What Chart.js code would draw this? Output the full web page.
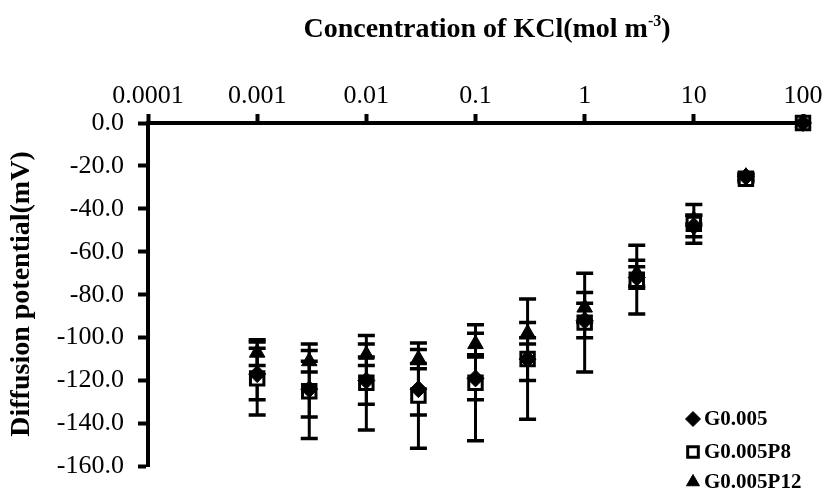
<!DOCTYPE html>
<html>
<head>
<meta charset="utf-8">
<script src="https://cdn.jsdelivr.net/npm/chart.js@4.4.1/dist/chart.umd.min.js"></script>
<style>
  html, body { margin: 0; padding: 0; background: #ffffff; }
  #wrap { width: 827px; height: 496px; }
</style>
</head>
<body>
<div id="wrap"><canvas id="c" width="827" height="496"></canvas></div>
<script>
// KCl concentration (mol m^-3) of each measurement
const concentrations = [0.001, 0.003, 0.01, 0.03, 0.1, 0.3, 1, 3, 10, 30, 100];

const seriesNames = ['G0.005', 'G0.005P8', 'G0.005P12'];

// Diffusion potential (mV) and its error, per membrane
const g005      = [-117, -124, -120, -124, -119, -110, -92, -72, -48, -25, 0];
const g005Err   = [12, 13, 11, 12, 10, 10, 8, 5, 5, 1.5, 0];
const g005P8    = [-119, -125, -121, -127, -121, -110, -93, -73, -47, -26, 0];
const g005P8Err = [17, 22, 22, 24.5, 27, 28, 23, 16, 9, 1.5, 0];
const g005P12   = [-107, -111, -108, -110, -103, -98, -86, -70, -45, -25, 0];
const g005P12Err = [6, 5, 5, 4.5, 5, 5, 7, 6, 2, 1, 0];

// Axis ticks and titles
const xTickValues = [0.0001, 0.001, 0.01, 0.1, 1, 10, 100];
const xTickLabels = ['0.0001', '0.001', '0.01', '0.1', '1', '10', '100'];
const yTickValues = [0, -20, -40, -60, -80, -100, -120, -140, -160];
const xTitleMain = 'Concentration of KCl(mol m';
const xTitleSup = '-3';
const xTitleEnd = ')';
const yTitle = 'Diffusion potential(mV)';

const SERIF = '"Liberation Serif", "Times New Roman", serif';

function points(values) {
  return concentrations.map((c, i) => ({ x: c, y: values[i] }));
}

const datasets = [
  {
    label: seriesNames[0], data: points(g005), errors: g005Err,
    pointStyle: 'rectRot', pointRadius: 8.5, pointHoverRadius: 8.5,
    backgroundColor: '#000', borderColor: '#000', borderWidth: 1
  },
  {
    label: seriesNames[1], data: points(g005P8), errors: g005P8Err,
    pointStyle: 'rect', pointRadius: 9.5, pointHoverRadius: 9.5,
    backgroundColor: '#fff', borderColor: '#000', borderWidth: 3
  },
  {
    label: seriesNames[2], data: points(g005P12), errors: g005P12Err,
    pointStyle: 'triangle', pointRadius: 9, pointHoverRadius: 9,
    backgroundColor: '#000', borderColor: '#000', borderWidth: 1
  }
].map(d => Object.assign(d, { showLine: false, clip: false }));

// Vertical error bars with caps, placed through the chart's scales
const errorBars = {
  id: 'errorBars',
  beforeDatasetsDraw(chart) {
    const { ctx, scales: { x, y } } = chart;
    ctx.save();
    ctx.strokeStyle = '#000';
    chart.data.datasets.forEach(ds => {
      ds.data.forEach((p, i) => {
        const e = ds.errors[i];
        if (!e) return;
        const px = x.getPixelForValue(p.x);
        const top = y.getPixelForValue(p.y + e);
        const bot = y.getPixelForValue(p.y - e);
        ctx.lineWidth = 3;
        ctx.beginPath();
        ctx.moveTo(px, top); ctx.lineTo(px, bot);
        ctx.stroke();
        ctx.lineWidth = 3.5;
        ctx.beginPath();
        ctx.moveTo(px - 8.5, top); ctx.lineTo(px + 8.5, top);
        ctx.moveTo(px - 8.5, bot); ctx.lineTo(px + 8.5, bot);
        ctx.stroke();
      });
    });
    ctx.restore();
  }
};

// Axis titles, with the superscript unit exponent
const axisTitles = {
  id: 'axisTitles',
  afterDraw(chart) {
    const ctx = chart.ctx;
    ctx.save();
    ctx.fillStyle = '#000';
    ctx.textBaseline = 'alphabetic';
    const mainFont = 'bold 28px ' + SERIF;
    const supFont = 'bold 16px ' + SERIF;
    ctx.font = mainFont;
    const w1 = ctx.measureText(xTitleMain).width;
    const w3 = ctx.measureText(xTitleEnd).width;
    ctx.font = supFont;
    const w2 = ctx.measureText(xTitleSup).width;
    const total = w1 + w2 + w3;
    const tx = 487 - total / 2;
    const base = 37;
    ctx.textAlign = 'left';
    ctx.font = mainFont;
    ctx.fillText(xTitleMain, tx, base);
    ctx.font = supFont;
    ctx.fillText(xTitleSup, tx + w1, base - 11);
    ctx.font = mainFont;
    ctx.fillText(xTitleEnd, tx + w1 + w2, base);

    ctx.translate(22, 294);
    ctx.rotate(-Math.PI / 2);
    ctx.textAlign = 'center';
    ctx.textBaseline = 'middle';
    ctx.font = mainFont;
    ctx.fillText(yTitle, 0, 0);
    ctx.restore();
  }
};

// Legend in the lower right of the plot
const cornerLegend = {
  id: 'cornerLegend',
  afterDraw(chart) {
    const ctx = chart.ctx;
    const rows = [419, 452, 482];
    ctx.save();
    ctx.font = 'bold 21px ' + SERIF;
    ctx.textAlign = 'left';
    ctx.textBaseline = 'middle';
    chart.data.datasets.forEach((ds, i) => {
      const yy = rows[i];
      ctx.fillStyle = ds.backgroundColor;
      ctx.strokeStyle = ds.borderColor;
      ctx.lineWidth = ds.borderWidth;
      Chart.helpers.drawPoint(ctx, {
        pointStyle: ds.pointStyle,
        radius: 7.5,
        borderWidth: ds.borderWidth,
        rotation: 0
      }, 693, yy);
      ctx.fillStyle = '#000';
      ctx.fillText(ds.label, 704, yy + 1);
    });
    ctx.restore();
  }
};

const tickFont = { family: SERIF, size: 26 };

new Chart(document.getElementById('c'), {
  type: 'scatter',
  data: { datasets },
  options: {
    responsive: false,
    animation: false,
    devicePixelRatio: 1,
    layout: { padding: { top: 0, left: 0, right: 24, bottom: 19 } },
    plugins: { legend: { display: false }, tooltip: { enabled: false } },
    scales: {
      x: {
        type: 'logarithmic',
        position: 'top',
        min: 0.0001,
        max: 100,
        afterBuildTicks: s => { s.ticks = xTickValues.map(v => ({ value: v })); },
        afterFit: s => { s.height = 123; },
        ticks: {
          callback: (v, i) => xTickLabels[i],
          font: tickFont, color: '#000', padding: 2,
          maxRotation: 0, autoSkip: false
        },
        grid: { drawOnChartArea: false, tickLength: 9, tickWidth: 4, tickColor: '#000' },
        border: { width: 4, color: '#000' }
      },
      y: {
        type: 'linear',
        min: -160,
        max: 0,
        afterBuildTicks: s => { s.ticks = yTickValues.map(v => ({ value: v })); },
        afterFit: s => { s.width = 148; },
        ticks: {
          callback: v => Number(v).toFixed(1),
          font: tickFont, color: '#000', padding: 14, autoSkip: false
        },
        grid: { drawOnChartArea: false, tickLength: 10, tickWidth: 4, tickColor: '#000' },
        border: { width: 4, color: '#000' }
      }
    }
  },
  plugins: [errorBars, axisTitles, cornerLegend]
});
</script>
</body>
</html>
